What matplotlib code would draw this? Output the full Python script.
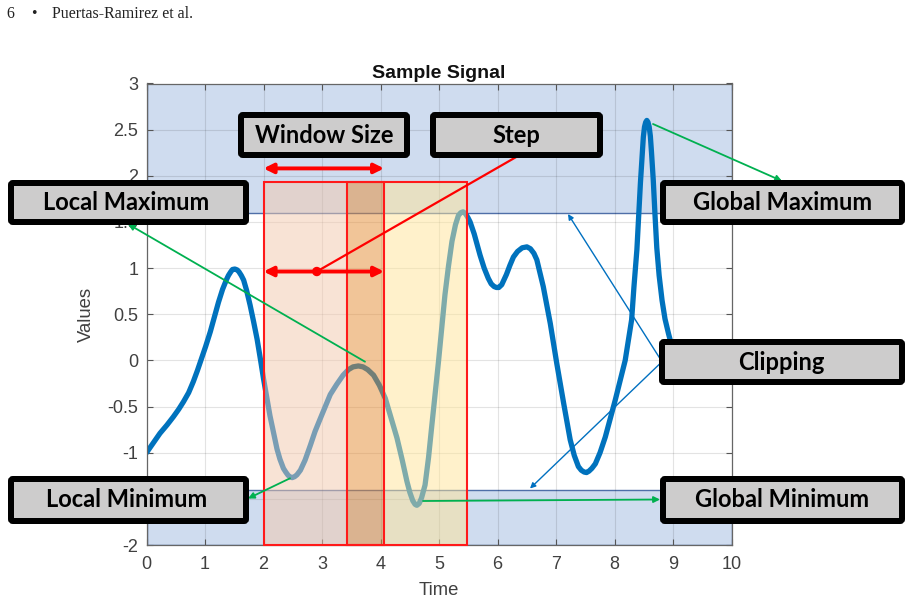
import matplotlib
matplotlib.use('Agg')
import matplotlib.pyplot as plt
from matplotlib.patches import Rectangle, FancyBboxPatch, Circle
import numpy as np

# ---------------- data ----------------
time = [0.0, 0.12, 0.23, 0.35, 0.46, 0.55, 0.63, 0.72, 0.8, 0.87, 0.94, 1.01, 1.09, 1.16, 1.23,
        1.30, 1.37, 1.40, 1.44, 1.47, 1.51, 1.55, 1.58, 1.62, 1.66, 1.71, 1.77, 1.83, 1.89, 1.95,
        2.0, 2.11, 2.23, 2.28, 2.34, 2.38, 2.42, 2.46, 2.49, 2.53, 2.57, 2.63, 2.71, 2.8, 2.88,
        2.97, 3.14, 3.25, 3.36, 3.45, 3.53, 3.62, 3.70, 3.78, 3.88, 3.98, 4.08, 4.28, 4.37, 4.45,
        4.50, 4.55, 4.59, 4.62, 4.66, 4.70, 4.76, 4.82, 4.87, 4.99, 5.10, 5.16, 5.22, 5.28, 5.33,
        5.37, 5.41, 5.45, 5.49, 5.53, 5.60, 5.70, 5.77, 5.84, 5.89, 5.94, 5.98, 6.02, 6.07, 6.15,
        6.21, 6.27, 6.34, 6.42, 6.50, 6.56, 6.62, 6.67, 6.72, 6.78, 6.90, 7.01, 7.13, 7.24, 7.31,
        7.38, 7.43, 7.48, 7.52, 7.56, 7.61, 7.67, 7.75, 7.84, 8.01, 8.18, 8.29, 8.33, 8.38, 8.41,
        8.44, 8.47, 8.49, 8.51, 8.53, 8.55, 8.57, 8.59, 8.61, 8.63, 8.66, 8.69, 8.72, 8.76, 8.81,
        8.86, 8.92, 9.0]
values = [-1.0, -0.89, -0.79, -0.70, -0.61, -0.53, -0.45, -0.35, -0.23, -0.11, 0.02, 0.15, 0.31, 0.47, 0.63,
          0.77, 0.88, 0.92, 0.96, 0.985, 0.99, 0.98, 0.96, 0.92, 0.87, 0.76, 0.6, 0.42, 0.23, 0.0,
          -0.2, -0.6, -0.96, -1.07, -1.17, -1.21, -1.245, -1.265, -1.27, -1.26, -1.24, -1.19, -1.08, -0.92, -0.77,
          -0.63, -0.37, -0.26, -0.16, -0.10, -0.07, -0.06, -0.07, -0.10, -0.16, -0.27, -0.41, -0.84, -1.08, -1.31,
          -1.43, -1.52, -1.56, -1.57, -1.55, -1.49, -1.35, -1.05, -0.74, -0.01, 0.71, 1.02, 1.29, 1.47, 1.57,
          1.60, 1.61, 1.59, 1.55, 1.50, 1.37, 1.14, 1.0, 0.89, 0.83, 0.80, 0.79, 0.79, 0.82, 0.93,
          1.03, 1.12, 1.18, 1.22, 1.23, 1.21, 1.16, 1.09, 0.96, 0.80, 0.40, -0.03, -0.47, -0.86, -1.03,
          -1.15, -1.19, -1.21, -1.215, -1.20, -1.17, -1.12, -1.0, -0.83, -0.43, 0.0, 0.44, 0.8, 1.2, 1.55,
          1.92, 2.22, 2.42, 2.53, 2.58, 2.60, 2.58, 2.53, 2.43, 2.25, 1.95, 1.57, 1.22, 0.92, 0.65,
          0.45, 0.29, 0.10]

clip_high = 1.6
clip_low = -1.4
window_starts = [2.0, 3.42]
window_size = 2.06
window_top = 1.93

xticks = list(range(0, 11))
xtick_labels = [str(v) for v in xticks]
yticks = [-2, -1.5, -1, -0.5, 0, 0.5, 1, 1.5, 2, 2.5, 3]
ytick_labels = ['-2', '-1.5', '-1', '-0.5', '0', '0.5', '1', '1.5', '2', '2.5', '3']

# ---------------- figure ----------------
W, H = 913, 604
fig = plt.figure(figsize=(W / 100, H / 100), dpi=100)
plt.rcParams['font.family'] = ['Liberation Sans', 'DejaVu Sans']

ax = fig.add_axes([146.5 / W, 1 - 545 / H, (731.7 - 146.5) / W, (545 - 83.5) / H])
ax.set_xlim(0, 10)
ax.set_ylim(-2, 3)
ax.set_xticks(xticks)
ax.set_xticklabels(xtick_labels)
ax.set_yticks(yticks)
ax.set_yticklabels(ytick_labels)
ax.tick_params(direction='in', top=True, right=True, length=4, width=0.8,
               color='#555555', labelsize=13, labelcolor='#404040')
ax.tick_params(axis='x', pad=8)
ax.tick_params(axis='y', pad=6)
# the -1.5 label lies fully under the "Local Minimum" box in the reference
for lab in ax.get_yticklabels():
    if lab.get_text() == '-1.5':
        lab.set_visible(False)
for s in ax.spines.values():
    s.set_color('#666666')
    s.set_linewidth(0.9)
ax.set_axisbelow(True)
ax.grid(True, color='black', alpha=0.11, lw=0.8)

# clipping bands
band_fc = '#cfdcef'
band_ec = '#4f6fa8'
ax.add_patch(Rectangle((0, clip_high), 10, 3 - clip_high, fc=band_fc, ec=band_ec, lw=1.0, zorder=0.2))
ax.add_patch(Rectangle((0, -2), 10, clip_low + 2, fc=band_fc, ec=band_ec, lw=1.0, zorder=0.2))

# signal
ax.plot(time, values, color='#0072BD', lw=3.8, solid_joinstyle='round', solid_capstyle='round', zorder=2)

# window fills (three segments: first only, overlap, second only)
w1s, w2s = window_starts
w1e, w2e = w1s + window_size, w2s + window_size
segs = [(w1s, w2s, (243 / 255, 201 / 255, 173 / 255)),
        (w2s, w1e, (229 / 255, 140 / 255, 50 / 255)),
        (w1e, w2e, (255 / 255, 229 / 255, 153 / 255))]
for a, b, c in segs:
    ax.add_patch(Rectangle((a, -2), b - a, window_top + 2, fc=c, ec='none', alpha=0.5, zorder=3))
for s in window_starts:
    ax.add_patch(Rectangle((s, -2), window_size, window_top + 2, fill=False, ec='#ff1a1a',
                           lw=1.5, zorder=4, clip_on=False))

ax.set_title('Sample Signal', fontsize=14, fontweight='bold', color='#111111', pad=4)
ax.set_xlabel('Time', fontsize=13.3, color='#404040')
ax.set_ylabel('Values', fontsize=13.3, color='#404040')
ax.xaxis.set_label_coords(0.5, -0.08)
ax.yaxis.set_label_coords(-0.088, 0.5)

# ---------------- overlay in pixel coordinates ----------------
ov = fig.add_axes([0, 0, 1, 1])
ov.set_xlim(0, W)
ov.set_ylim(H, 0)
ov.axis('off')

fig.canvas.draw()


def d2p(x, y):
    dx, dy = ax.transData.transform((x, y))
    return dx, H - dy


def box(x0, y0, x1, y1, text, cx, by):
    lwpx = 6
    ov.add_patch(FancyBboxPatch((x0 + lwpx / 2, y0 + lwpx / 2), x1 - x0 - lwpx, y1 - y0 - lwpx,
                                boxstyle='round,pad=0,rounding_size=2', fc='#cdcccc', ec='black',
                                lw=lwpx * 0.72, zorder=5))
    ov.text(cx, by, text, ha='center', va='baseline', fontsize=17, fontweight='bold',
            family=['Lato', 'DejaVu Sans'], color='black', zorder=6)


def arrow(p0, p1, color, lw, style='-|>', ms=10):
    ov.annotate('', xy=p1, xytext=p0,
                arrowprops=dict(arrowstyle=style, color=color, lw=lw, mutation_scale=ms,
                                shrinkA=0, shrinkB=0), zorder=4)


# red window / step arrows
xa, ya = d2p(w1s, 2.08)
xb, _ = d2p(w1e, 2.08)
arrow((xa, ya), (xb, ya), '#ff0000', 2.8, '<|-|>', 14)
xa, ys = d2p(w1s, 0.963)
xb, _ = d2p(w1e, 0.963)
arrow((xa, ys), (xb, ys), '#ff0000', 2.8, '<|-|>', 14)
dotx, _ = d2p(2.91, 0.963)
ov.plot([dotx, 516.7], [ys, 156.7], color='#ff0000', lw=1.6, zorder=4)
ov.add_patch(Circle((dotx, ys), 4, color='#ff0000', zorder=4))

# green arrows
green = '#00b050'
arrow((365, 361.7), (128, 224), green, 1.3, '-|>', 9)
arrow((290, 478.3), (248, 498.5), green, 1.3, '-|>', 9)
arrow((423, 501), (660, 499.5), green, 1.3, '-|>', 9)
arrow((653, 124), (782, 181), green, 1.3, '-|>', 9)

# blue clipping arrows
blue = '#0070c0'
arrow((662, 361.7), (568, 214), blue, 1.0, '-|>', 8)
arrow((662, 361.7), (530, 488.5), blue, 1.0, '-|>', 8)

# labelled boxes
box(238, 112, 410, 158, 'Window Size', 324, 143.3)
box(430, 112, 603, 158, 'Step', 516, 143.3)
box(8, 180, 249, 225, 'Local Maximum', 126, 210)
box(660, 180, 905, 225, 'Global Maximum', 783, 210.5)
box(659, 339, 905, 385, 'Clipping', 781, 370)
box(8, 476, 249, 524, 'Local Minimum', 127, 507)
box(660, 476, 905, 524, 'Global Minimum', 782.5, 506.8)

# page header
hdr = dict(family=['Liberation Serif', 'DejaVu Serif'], fontsize=11.5, color='#222222', va='baseline')
ov.text(6.5, 17.5, '6', **hdr)
ov.text(31, 17.5, '\u2022', **hdr)
ov.text(51.5, 17.5, 'Puertas-Ramirez et al.', **hdr)

fig.savefig('out.png', dpi=100)
